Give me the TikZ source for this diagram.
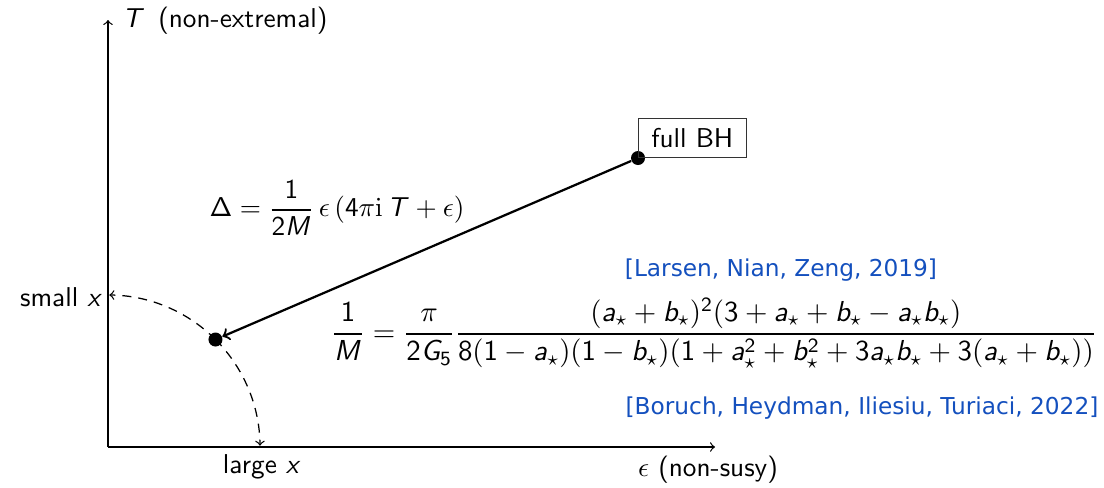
\RequirePackage{fix-cm}
\documentclass[tikz,border=0pt]{standalone}
\usepackage{amsmath}
\usepackage[no-math]{fontspec}
\usetikzlibrary{calc}
\renewcommand\familydefault{\sfdefault}
\newfontfamily\citefont{DejaVu Sans}
% sans-serif math letters and digits (beamer-like)
\DeclareSymbolFont{sfit}{OT1}{cmss}{m}{sl}
\DeclareSymbolFont{sfup}{OT1}{cmss}{m}{n}
\DeclareMathSymbol{a}{\mathalpha}{sfit}{`a}
\DeclareMathSymbol{b}{\mathalpha}{sfit}{`b}
\DeclareMathSymbol{x}{\mathalpha}{sfit}{`x}
\DeclareMathSymbol{M}{\mathalpha}{sfit}{`M}
\DeclareMathSymbol{T}{\mathalpha}{sfit}{`T}
\DeclareMathSymbol{G}{\mathalpha}{sfit}{`G}
\DeclareMathSymbol{1}{\mathalpha}{sfup}{`1}
\DeclareMathSymbol{2}{\mathalpha}{sfup}{`2}
\DeclareMathSymbol{3}{\mathalpha}{sfup}{`3}
\DeclareMathSymbol{4}{\mathalpha}{sfup}{`4}
\DeclareMathSymbol{5}{\mathalpha}{sfup}{`5}
\DeclareMathSymbol{8}{\mathalpha}{sfup}{`8}
\DeclareMathSymbol{\Delta}{\mathalpha}{sfup}{"01}
\definecolor{citeblue}{RGB}{20,80,190}
\tikzset{
  axis/.style={->, line width=0.5pt},
  dot/.style={circle, fill=black, inner sep=0pt, minimum size=5.6pt},
  arcarrow/.style={->, dash pattern=on 3.6pt off 2.8pt, line width=0.5pt},
  mainarrow/.style={->, line width=0.9pt},
  box/.style={draw=black!80, line width=0.4pt, minimum width=43pt, minimum height=15.6pt, inner sep=2pt},
  cite/.style={text=citeblue, font=\citefont\fontsize{9.3}{11}\selectfont}
}
\begin{document}
\begin{tikzpicture}[x=0.4pt, y=-0.4pt, font=\fontsize{10.9}{12}\selectfont]
\useasboundingbox (0,0) rectangle (1104,487);
\coordinate (O) at (108,447);
\coordinate (Ytip) at (108,20);
\coordinate (Xtip) at (715,447);
\draw[axis] (O) -- (Ytip);
\draw[axis] (O) -- (Xtip);
\node[anchor=west, inner sep=0pt] (ylab) at (122,21) {$T$\ \,(non-extremal)};
\node[inner sep=0pt] (xlab) at (708,470) {$\epsilon$ (non-susy)};
\node[inner sep=0pt] (large) at (262,467) {large $x$};
\node[anchor=east, inner sep=0pt] (small) at (103,297) {small $x$};
\coordinate (Pc) at ($(O)+(-45:152)$);
\draw[arcarrow] (Pc) arc[start angle=-45, end angle=-89.5, radius=152];
\draw[arcarrow] (Pc) arc[start angle=-45, end angle=-0.5, radius=152];
\node[dot] (P) at (Pc) {};
\node[dot] (F) at (638,158) {};
\node[box, anchor=south west] (fb) at (F.center) {full BH};
\draw[mainarrow] (F) -- (P);
\node[inner sep=0pt] (delta) at (337,208) {$\Delta = \dfrac{1}{2M}\,\epsilon\,(4\pi\mathrm{i}\,T+\epsilon)$};
\node[inner sep=0pt, font=\fontsize{11.55}{13}\selectfont] (mass) at (714,333) {$\displaystyle \frac{1}{M}=\frac{\pi}{2G_5}\frac{(a_\star+b_\star)^2(3+a_\star+b_\star-a_\star b_\star)}{8(1-a_\star)(1-b_\star)(1+a_\star^2+b_\star^2+3a_\star b_\star+3(a_\star+b_\star))}$};
\node[cite] (c1) at (781,270) {[Larsen, Nian, Zeng, 2019]};
\node[cite] (c2) at (862,408) {[Boruch, Heydman, Iliesiu, Turiaci, 2022]};
\end{tikzpicture}
\end{document}
